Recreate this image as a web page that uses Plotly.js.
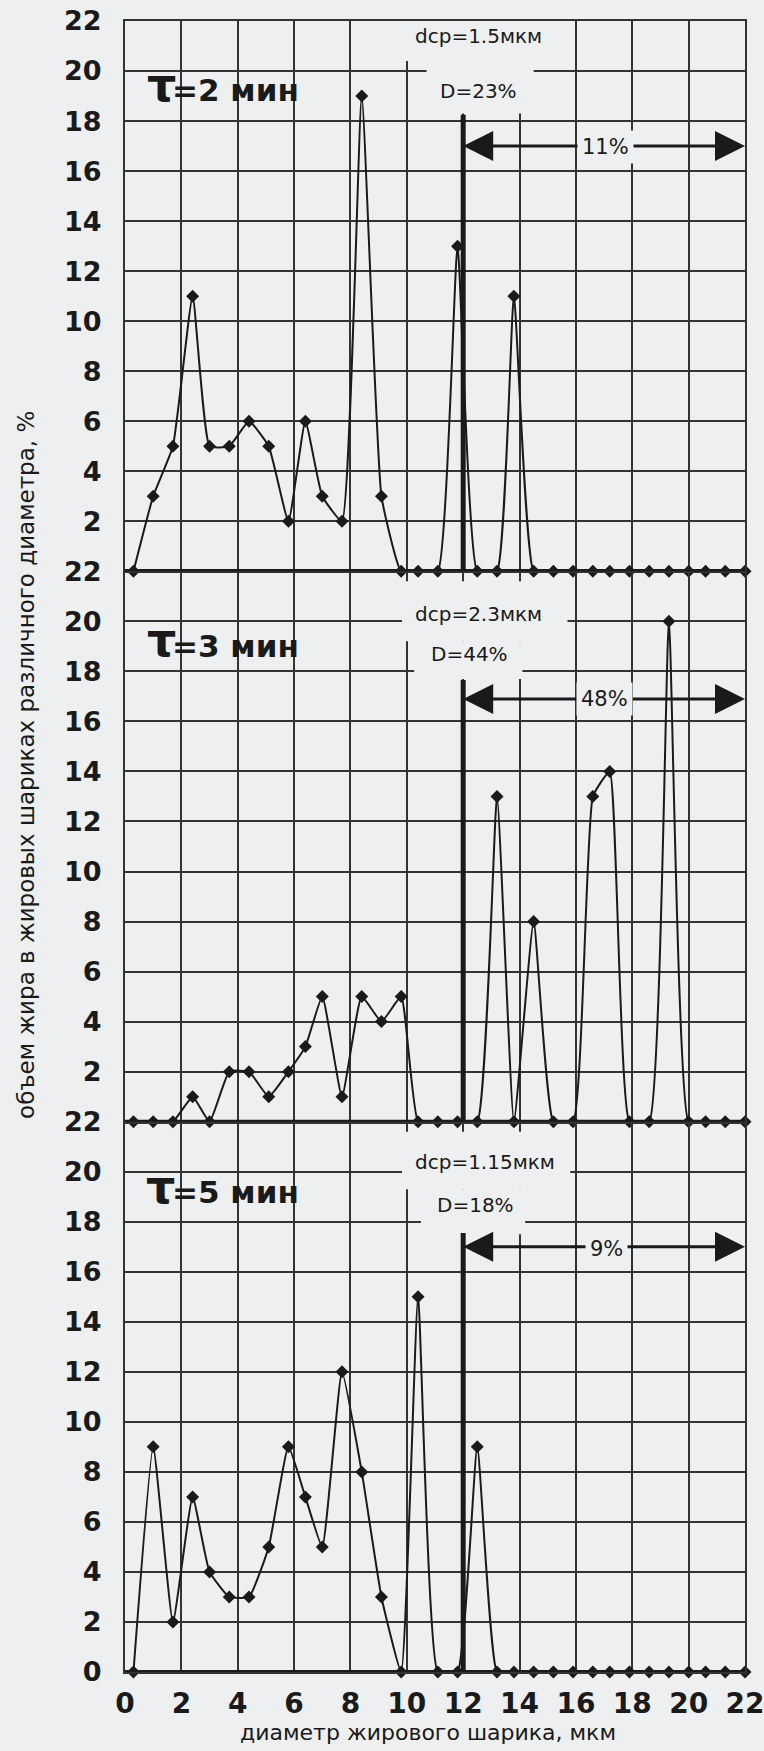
<!DOCTYPE html>
<html><head><meta charset="utf-8">
<script src="https://cdn.plot.ly/plotly-3.0.1.min.js"></script>
<style>html,body{margin:0;padding:0;background:#eeeff0;}</style>
</head><body>
<div id="chart" style="width:764px;height:1751px;"></div>
<script>
// ---- data ----
const diameters = [0.3, 1.0, 1.7, 2.4, 3.0, 3.7, 4.4, 5.1, 5.8, 6.4, 7.0, 7.7, 8.4, 9.1, 9.8, 10.4, 11.1,
                   11.8, 12.5, 13.2, 13.8, 14.5, 15.2, 15.9, 16.6, 17.2, 17.9, 18.6, 19.3, 20.0, 20.6, 21.3, 22.0];
const fat2min = [0, 3, 5, 11, 5, 5, 6, 5, 2, 6, 3, 2, 19, 3, 0, 0, 0, 13, 0, 0, 11, 0, 0, 0, 0, 0, 0, 0, 0, 0, 0, 0, 0];
const fat3min = [0, 0, 0, 1, 0, 2, 2, 1, 2, 3, 5, 1, 5, 4, 5, 0, 0, 0, 0, 13, 0, 8, 0, 0, 13, 14, 0, 0, 20, 0, 0, 0, 0];
const fat5min = [0, 9, 2, 7, 4, 3, 3, 5, 9, 7, 5, 12, 8, 3, 0, 15, 0, 0, 9, 0, 0, 0, 0, 0, 0, 0, 0, 0, 0, 0, 0, 0, 0];
const panelTimes = ['=2 мин', '=3 мин', '=5 мин'];
const meanDiameters = ['1.5', '2.3', '1.15'];
const shareD = ['23%', '44%', '18%'];
const shareAbove12 = ['11%', '48%', '9%'];
const boundaryDiameter = 12;
const xTicks = [0, 2, 4, 6, 8, 10, 12, 14, 16, 18, 20, 22];
const yTicksUpper = [2, 4, 6, 8, 10, 12, 14, 16, 18, 20, 22];
const yTicksBottom = [0, 2, 4, 6, 8, 10, 12, 14, 16, 18, 20, 22];
const yTitle = 'объем жира в жировых шариках различного диаметра, %';
const xTitle = 'диаметр жирового шарика, мкм';

// ---- styling / placement ----
const BG = '#eeeff0', INK = '#1a1a1a', GRID = '#333333';
const FONT = 'DejaVu Sans, Liberation Sans, Arial, sans-serif';
const series = [fat2min, fat3min, fat5min];
const place = [
  {ax: ['x', 'y'], domain: [2/3, 1], tauX: 0.72, tauY: 19.44, timeY: 19.23, dY: 21.41, dX: 12.53, DY: 19.21, DX: 12.56,
   lineTop: 18.25, arrowY: 17.0, pctY: 16.97, pctX: 17.05, covers: [[9.9, 15.4, 20.4, 22], [10.7, 14.5, 18.3, 20.4]]},
  {ax: ['x2', 'y2'], domain: [1/3, 2/3], tauX: 0.72, tauY: 19.24, timeY: 19.03, dY: 20.28, dX: 12.56, DY: 18.7, DX: 12.24,
   lineTop: 17.66, arrowY: 16.9, pctY: 16.89, pctX: 17.0, covers: [[9.83, 15.7, 19.2, 21.6], [10.26, 14.1, 17.7, 19.2]]},
  {ax: ['x3', 'y3'], domain: [0, 1/3], tauX: 0.67, tauY: 19.38, timeY: 19.18, dY: 20.38, dX: 12.78, DY: 18.65, DX: 12.42,
   lineTop: 17.55, arrowY: 17.0, pctY: 16.9, pctX: 17.1, covers: [[9.83, 15.8, 19.3, 21.6], [10.5, 14.2, 17.5, 19.3]]}
];

const traces = series.map((vals, i) => ({
  x: diameters, y: vals, xaxis: place[i].ax[0], yaxis: place[i].ax[1],
  type: 'scatter', mode: 'lines+markers', cliponaxis: false, hoverinfo: 'skip',
  line: {shape: 'spline', smoothing: 0.4, color: INK, width: 2},
  marker: {symbol: 'diamond', size: 10, color: INK}
}));

const axCommon = {
  range: [0, 22], showgrid: true, gridcolor: GRID, gridwidth: 2, zeroline: false,
  showline: true, mirror: true, linecolor: GRID, linewidth: 2, ticks: '', fixedrange: true
};
const tickFont = {family: FONT, size: 27, weight: 'bold', color: INK};

const layout = {
  width: 764, height: 1751, margin: {l: 125, r: 19, t: 21, b: 79},
  paper_bgcolor: BG, plot_bgcolor: BG, showlegend: false,
  shapes: [], annotations: []
};

place.forEach((p, i) => {
  const xn = p.ax[0] === 'x' ? 'xaxis' : 'xaxis' + p.ax[0].slice(1);
  const yn = p.ax[1] === 'y' ? 'yaxis' : 'yaxis' + p.ax[1].slice(1);
  layout[xn] = Object.assign({}, axCommon, {
    domain: [0, 1], anchor: p.ax[1], tickvals: xTicks, ticklabeloverflow: 'allow',
    showticklabels: i === 2, tickfont: Object.assign({}, tickFont, {size: 28}), ticklabelstandoff: 5
  });
  if (i > 0) layout[xn].matches = 'x';
  layout[yn] = Object.assign({}, axCommon, {
    domain: p.domain, anchor: p.ax[0], tickvals: i === 2 ? yTicksBottom : yTicksUpper,
    tickfont: tickFont, ticklabelstandoff: 16, ticklabeloverflow: 'allow'
  });
  const xr = p.ax[0], yr = p.ax[1];
  p.covers.forEach(c => layout.shapes.push({
    type: 'rect', xref: xr, yref: yr, x0: c[0], x1: c[1], y0: c[2], y1: c[3],
    fillcolor: BG, line: {width: 0}, layer: 'above'
  }));
  layout.shapes.push({type: 'line', xref: xr, yref: yr, x0: 0, x1: 22, y0: 0, y1: 0,
    line: {color: INK, width: 4}, layer: 'above'});
  layout.shapes.push({type: 'line', xref: xr, yref: yr, x0: boundaryDiameter, x1: boundaryDiameter, y0: 0, y1: p.lineTop,
    line: {color: INK, width: 5}, layer: 'above'});

  const A = layout.annotations;
  A.push({xref: xr, yref: yr, x: p.tauX, y: p.tauY, xanchor: 'left', yanchor: 'middle', showarrow: false,
    text: 'τ', font: {family: FONT, size: 46, weight: 'bold', color: INK}});
  A.push({xref: xr, yref: yr, x: 1.6, y: p.timeY, xanchor: 'left', yanchor: 'middle', showarrow: false,
    text: panelTimes[i], font: {family: FONT, size: 31, weight: 'bold', color: INK}});
  A.push({xref: xr, yref: yr, x: p.dX, y: p.dY, xanchor: 'center', yanchor: 'middle', showarrow: false,
    text: 'dср=' + meanDiameters[i] + 'мкм', font: {family: FONT, size: 20, color: INK}});
  A.push({xref: xr, yref: yr, x: p.DX, y: p.DY, xanchor: 'center', yanchor: 'middle', showarrow: false,
    text: 'D=' + shareD[i], font: {family: FONT, size: 20, color: INK}});
  [boundaryDiameter, 22].forEach(tip => A.push({
    xref: xr, yref: yr, x: tip, y: p.arrowY, axref: xr, ayref: yr, ax: p.pctX, ay: p.arrowY,
    text: '', showarrow: true, arrowhead: 2, arrowsize: 2, arrowwidth: 3, arrowcolor: INK, standoff: 0
  }));
  A.push({xref: xr, yref: yr, x: p.pctX, y: p.pctY, xanchor: 'center', yanchor: 'middle', showarrow: false,
    text: shareAbove12[i], bgcolor: BG, borderpad: 4, font: {family: FONT, size: 21, color: INK}});
});

layout.annotations.push({xref: 'paper', yref: 'paper', x: -0.1597, y: 0.5494, xanchor: 'center', yanchor: 'middle',
  textangle: -90, showarrow: false, text: yTitle, font: {family: FONT, size: 23, color: INK}});
layout.annotations.push({xref: 'paper', yref: 'paper', x: 0.4887, y: -0.0364, xanchor: 'center', yanchor: 'middle',
  showarrow: false, text: xTitle, font: {family: FONT, size: 22, color: INK}});

Plotly.newPlot('chart', traces, layout, {staticPlot: true, displayModeBar: false});
</script>
</body></html>
